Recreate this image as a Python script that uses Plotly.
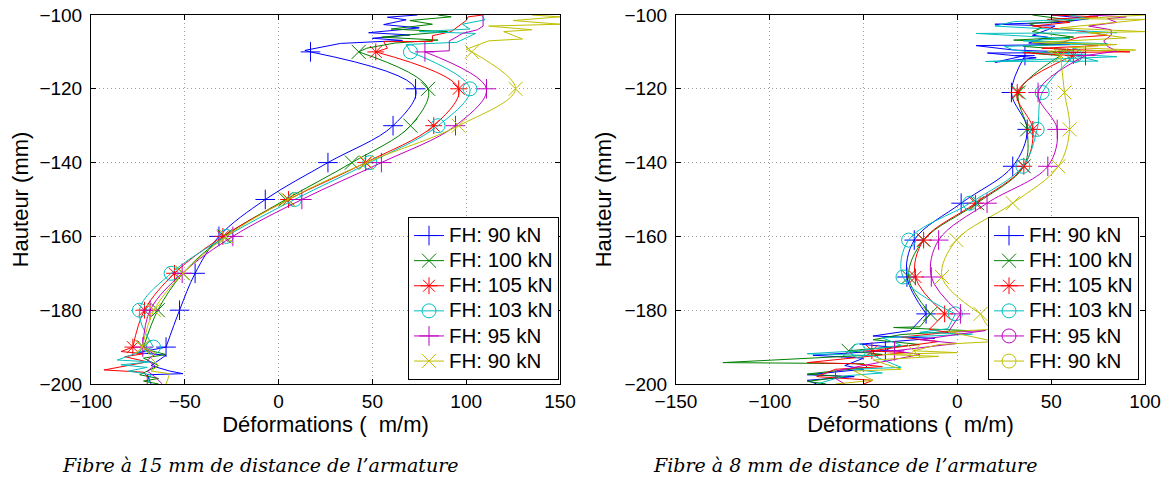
import plotly.graph_objects as go

# ---------------- data ----------------
names = ["FH: 90 kN", "FH: 100 kN", "FH: 105 kN", "FH: 103 kN", "FH: 95 kN", "FH: 90 kN"]
colors = ["#0000ff", "#008000", "#ff0000", "#00bfbf", "#bf00bf", "#bfbf00"]
symbols = ["cross-thin-open", "x-thin-open", "asterisk-open", "circle-open", "cross-thin-open", "x-thin-open"]
right_legend_symbols = ["cross-thin-open", "x-thin-open", "asterisk-open", "circle-open", "circle-open", "circle-open"]

x_ticks_left = [-100, -50, 0, 50, 100, 150]
x_ticks_right = [-150, -100, -50, 0, 50, 100]
y_ticks = [-200, -180, -160, -140, -120, -100]

# Left panel (fibre at 15 mm): marker heights and values
left_marker_y = [-110, -120, -130, -140, -150, -160, -170, -180, -190]
left_blue_x = [17, 73, 61, 26.3, -7.1, -31.8, -44.5, -52.8, -60]
left_green_x = [42.7, 79.7, 70.3, 39.1, 3.8, -28.8, -51, -64.4, -72]
left_red_x = [51.8, 96, 82.7, 46.4, 5.3, -29.7, -55.5, -71.5, -77.7]
left_cyan_x = [70.3, 102, 85, 48.6, 8.5, -27.9, -57.3, -74.2, -66.7]
left_magenta_x = [78, 110.8, 94.3, 54.8, 12.4, -24.4, -51.4, -68.5, -72.4]
left_yellow_x = [103, 126.3, 96, 46.8, 5, -27.9, -51, -66.4, -72.7]

# Left panel noisy ends (top: above first marker, bottom: below last marker)
left_blue_top_x = [14, 33, 66, 50, 70, 48, 75, 56, 68, 58, 74]
left_blue_top_y = [-109.6, -107.7, -106.9, -106.3, -105.4, -104.8, -103.5, -102.6, -101.3, -100.6, -100]
left_green_top_x = [47, 62, 85, 55, 90, 60, 82, 70, 92, 85]
left_green_top_y = [-109, -107.6, -106.8, -106, -104.5, -103.8, -102.5, -101.5, -100.5, -100]
left_red_top_x = [58, 56, 82, 82, 92, 96, 100, 101, 109]
left_red_top_y = [-109, -107.2, -107.2, -105.6, -104.5, -103, -101.5, -100.5, -100]
left_cyan_top_x = [68, 95, 100, 105, 75, 102, 98, 110, 108]
left_cyan_top_y = [-108, -107.4, -106.2, -105, -104.5, -103.8, -102.5, -101.3, -100]
left_magenta_top_x = [91, 91, 93, 98, 106, 109, 109]
left_magenta_top_y = [-109.7, -107, -106.5, -105, -104, -103, -100]
left_yellow_top_x = [100, 112, 130, 120, 135, 112, 150, 125, 150, 135]
left_yellow_top_y = [-109.3, -107, -106.5, -104.5, -104, -103, -102.5, -101.5, -100.5, -100]

left_blue_bot_x = [-75, -60, -68, -58, -51, -70, -68]
left_blue_bot_y = [-191.5, -192.2, -195, -196.5, -197.2, -197.5, -200]
left_green_bot_x = [-68, -60, -72, -64, -74, -64, -72, -64]
left_green_bot_y = [-191, -192, -193, -195, -197.5, -198.5, -199.2, -200]
left_red_bot_x = [-84, -72, -82, -70, -93, -72, -70, -70]
left_red_bot_y = [-191.2, -191.8, -192.6, -194, -196.2, -196.8, -198, -200]
left_cyan_bot_x = [-74, -86, -68, -84, -70, -80, -68, -70]
left_cyan_bot_y = [-191.3, -193.5, -194, -194.8, -195.5, -196.5, -197.5, -200]
left_magenta_bot_x = [-66, -70, -66, -70, -66, -62]
left_magenta_bot_y = [-192, -193.5, -195, -196.5, -198, -200]
left_yellow_bot_x = [-66, -68, -64, -68, -58, -60]
left_yellow_bot_y = [-191.5, -193, -195, -196.5, -197.2, -200]

# Right panel (fibre at 8 mm)
right_marker_y = [-111, -121, -131, -141, -151, -161, -171, -181, -191]
right_blue_x = [36, 28.8, 37.2, 29.5, 2, -23, -26.9, -16.7, -38.4]
right_green_x = [55, 32.7, 37.2, 35.4, 10.5, -18, -26, -14.4, -58]
right_red_x = [61.8, 31.9, 40.2, 35.4, 9.6, -18, -22.4, -6.8, -45.6]
right_cyan_x = [62.6, 45.2, 42.5, 34.9, 6.6, -26, -29, -1.1, -52.7]
right_magenta_x = [68.3, 43, 53.2, 48.2, 15.8, -10, -13.9, 1.6, -33.5]
right_yellow_x = [55, 57.1, 59.8, 53.8, 29.5, -0.5, -8.2, 12.3, -23.3]

right_blue_top_x = [20, 42, 16, 68, 30, 10, 60, 38, 48, 40, 48, 52, 20, 55, 70, 50]
right_blue_top_y = [-112.8, -111.6, -110.3, -110.2, -109.5, -108.3, -108, -107.6, -106, -105.5, -104, -103, -102.5, -102, -101, -100]
right_green_top_x = [40, 62, 35, 60, 30, 62, 40, 45, 38, 62, 40]
right_green_top_y = [-110.4, -109.5, -108.5, -107.5, -106.8, -106, -104.5, -103.5, -102.3, -101.5, -100]
right_red_top_x = [35, 92, 45, 75, 55, 65, 80, 68, 40, 60, 48, 75, 50]
right_red_top_y = [-110.2, -110, -109, -108.3, -107.5, -106, -105.5, -104.5, -103, -102, -101.2, -100.5, -100]
right_cyan_top_x = [75, 15, 85, 40, 30, 25, 80, 35, 60, 10, 85, 20, 30, 70, 60]
right_cyan_top_y = [-112.5, -112.6, -111.3, -110, -109.5, -108.5, -107.8, -107, -106.4, -105, -104.8, -103, -101.8, -101, -100]
right_magenta_top_x = [75, 85, 80, 78, 82, 82, 70, 85, 80, 90, 70]
right_magenta_top_y = [-110.5, -109.8, -108.5, -107, -105.5, -104, -103, -102, -101, -100.5, -100]
right_yellow_top_x = [48, 95, 60, 85, 40, 90, 70, 100, 55, 100, 65, 100]
right_yellow_top_y = [-109.8, -109.5, -108.8, -108, -107.5, -106.2, -104.8, -104.5, -103.5, -101.2, -101, -100]

# between the -181 and -191 markers
right_blue_mid_x = [-25, -45, -12, -52, -35]
right_blue_mid_y = [-185.5, -187, -187.6, -189.2, -190]
right_green_mid_x = [-20, -34, 5, -30, -45, -20]
right_green_mid_y = [-184.5, -184.7, -185.5, -186.6, -188, -189.3]
right_red_mid_x = [-15, -5, -30, -10]
right_red_mid_y = [-185.2, -186, -187.3, -188.5]
right_cyan_mid_x = [-5, -20, 8, -40, -30]
right_cyan_mid_y = [-185, -186, -186.5, -187.5, -189.5]
right_magenta_mid_x = [-5, 15, -20, 0]
right_magenta_mid_y = [-186, -185.5, -188, -189]
right_yellow_mid_x = [15, 18, -5, 20, -10]
right_yellow_mid_y = [-183.5, -185.2, -185.8, -188.5, -189.3]

# below the -191 marker
right_blue_bot_x = [-77, -50, -60, -50, -80, -55, -80, -75]
right_blue_bot_y = [-192.2, -193, -195, -196, -197.5, -198, -199, -200]
right_green_bot_x = [-40, -125, -50, -48, -80, -60, -80, -70]
right_green_bot_y = [-192, -194.2, -194.5, -195.5, -197.3, -198, -199.3, -200]
right_red_bot_x = [-28, -80, -55, -40, -65, -75, -45, -50]
right_red_bot_y = [-191.5, -194.2, -194.5, -195.3, -196, -198, -199, -200]
right_cyan_bot_x = [-80, -45, -30, -55, -40, -60, -75]
right_cyan_bot_y = [-191.8, -192.3, -195.5, -196, -197, -197.8, -200]
right_magenta_bot_x = [-20, -35, -65, -65, -60]
right_magenta_bot_y = [-192, -193.5, -196.5, -198.5, -200]
right_yellow_bot_x = [0, -40, -10, -45, -30, -55, -45, -65]
right_yellow_bot_y = [-191.5, -192, -192.5, -193.5, -196, -196.5, -199, -200]

left_series = [
    (left_blue_x, left_blue_top_x, left_blue_top_y, left_blue_bot_x, left_blue_bot_y),
    (left_green_x, left_green_top_x, left_green_top_y, left_green_bot_x, left_green_bot_y),
    (left_red_x, left_red_top_x, left_red_top_y, left_red_bot_x, left_red_bot_y),
    (left_cyan_x, left_cyan_top_x, left_cyan_top_y, left_cyan_bot_x, left_cyan_bot_y),
    (left_magenta_x, left_magenta_top_x, left_magenta_top_y, left_magenta_bot_x, left_magenta_bot_y),
    (left_yellow_x, left_yellow_top_x, left_yellow_top_y, left_yellow_bot_x, left_yellow_bot_y),
]
right_series = [
    (right_blue_x, right_blue_top_x, right_blue_top_y, right_blue_mid_x, right_blue_mid_y, right_blue_bot_x, right_blue_bot_y),
    (right_green_x, right_green_top_x, right_green_top_y, right_green_mid_x, right_green_mid_y, right_green_bot_x, right_green_bot_y),
    (right_red_x, right_red_top_x, right_red_top_y, right_red_mid_x, right_red_mid_y, right_red_bot_x, right_red_bot_y),
    (right_cyan_x, right_cyan_top_x, right_cyan_top_y, right_cyan_mid_x, right_cyan_mid_y, right_cyan_bot_x, right_cyan_bot_y),
    (right_magenta_x, right_magenta_top_x, right_magenta_top_y, right_magenta_mid_x, right_magenta_mid_y, right_magenta_bot_x, right_magenta_bot_y),
    (right_yellow_x, right_yellow_top_x, right_yellow_top_y, right_yellow_mid_x, right_yellow_mid_y, right_yellow_bot_x, right_yellow_bot_y),
]

# ---------------- figure ----------------
# page body has an 8px margin: the figure starts at (8, 8) in the window
OFF = 8
W, H = 1169 - OFF, 497 - OFF


def fx(px):
    return (px - OFF) / W


def fy(py):
    return 1 - (py - OFF) / H


fig = go.Figure()

MSIZE = 14
LW = 1

# Left panel
for i, (mx, tx, ty, bx, by) in enumerate(left_series):
    c = colors[i]
    nx = list(reversed(tx)) + [mx[0], None, mx[-1]] + bx
    ny = list(reversed(ty)) + [left_marker_y[0], None, left_marker_y[-1]] + by
    fig.add_trace(go.Scatter(x=nx, y=ny, mode="lines", line=dict(color=c, width=LW),
                             xaxis="x", yaxis="y", showlegend=False, hoverinfo="skip"))
    fig.add_trace(go.Scatter(x=mx, y=left_marker_y, mode="lines", line=dict(color=c, width=LW, shape="spline", smoothing=1.0),
                             xaxis="x", yaxis="y", showlegend=False, hoverinfo="skip"))
    fig.add_trace(go.Scatter(x=mx, y=left_marker_y, mode="markers",
                             marker=dict(symbol=symbols[i], size=MSIZE, color=c, line=dict(color=c, width=LW)),
                             xaxis="x", yaxis="y", showlegend=False))

# Right panel
for i, (mx, tx, ty, mdx, mdy, bx, by) in enumerate(right_series):
    c = colors[i]
    nx = list(reversed(tx)) + [mx[0], None, mx[-2]] + mdx + [mx[-1]] + bx
    ny = list(reversed(ty)) + [right_marker_y[0], None, right_marker_y[-2]] + mdy + [right_marker_y[-1]] + by
    fig.add_trace(go.Scatter(x=nx, y=ny, mode="lines", line=dict(color=c, width=LW),
                             xaxis="x2", yaxis="y2", showlegend=False, hoverinfo="skip"))
    fig.add_trace(go.Scatter(x=mx[:-1], y=right_marker_y[:-1], mode="lines",
                             line=dict(color=c, width=LW, shape="spline", smoothing=1.0),
                             xaxis="x2", yaxis="y2", showlegend=False, hoverinfo="skip"))
    fig.add_trace(go.Scatter(x=mx, y=right_marker_y, mode="markers",
                             marker=dict(symbol=symbols[i], size=MSIZE, color=c, line=dict(color=c, width=LW)),
                             xaxis="x2", yaxis="y2", showlegend=False))


def big(t):
    return '<span style="font-size:20.5px">' + t + '</span>'


# Legend entries
for i in range(6):
    c = colors[i]
    fig.add_trace(go.Scatter(x=[None], y=[None], mode="lines+markers", name=big(names[i]),
                             line=dict(color=c, width=LW),
                             marker=dict(symbol=symbols[i], size=MSIZE, color=c, line=dict(color=c, width=LW)),
                             xaxis="x", yaxis="y", legend="legend"))
for i in range(6):
    c = colors[i]
    fig.add_trace(go.Scatter(x=[None], y=[None], mode="lines+markers", name=big(names[i]),
                             line=dict(color=c, width=LW),
                             marker=dict(symbol=right_legend_symbols[i], size=MSIZE, color=c, line=dict(color=c, width=LW)),
                             xaxis="x2", yaxis="y2", legend="legend2"))

FONT = "Liberation Sans, Arial, Helvetica, sans-serif"
common_axis = dict(showgrid=True, gridcolor="#a0a0a0", griddash="1px,3px", gridwidth=1,
                   zeroline=False, showline=True, linecolor="black", linewidth=1,
                   mirror="allticks", ticks="inside", ticklen=5, tickcolor="black",
                   automargin=False, ticklabeloverflow="allow",
                   tickfont=dict(family=FONT, size=19, color="black"))

ydom = [fy(384), fy(15)]
xtitle = "Déformations (\u00a0\u00a0m/m)"

fig.update_layout(
    width=W, height=H,
    margin=dict(l=0, r=0, t=0, b=0, autoexpand=False),
    paper_bgcolor="white", plot_bgcolor="white",
    font=dict(family=FONT, color="black"),
    xaxis=dict(domain=[fx(91), fx(560)], range=[-100, 150], tickvals=x_ticks_left, anchor="y",
               title=dict(text=xtitle, font=dict(size=22), standoff=0), ticklabelstandoff=0, **common_axis),
    yaxis=dict(domain=ydom, range=[-200, -100], tickvals=y_ticks, anchor="x",
               title=dict(text="Hauteur (mm)", font=dict(size=22), standoff=6), ticklabelstandoff=4, **common_axis),
    xaxis2=dict(domain=[fx(676), fx(1145)], range=[-150, 100], tickvals=x_ticks_right, anchor="y2",
                title=dict(text=xtitle, font=dict(size=22), standoff=0), ticklabelstandoff=0, **common_axis),
    yaxis2=dict(domain=ydom, range=[-200, -100], tickvals=y_ticks, anchor="x2",
                title=dict(text="Hauteur (mm)", font=dict(size=22), standoff=6), ticklabelstandoff=4, **common_axis),
    legend=dict(x=fx(559), y=fy(380), xanchor="right", yanchor="bottom", bgcolor="white",
                bordercolor="black", borderwidth=1, font=dict(family=FONT, size=17, color="black"),
                tracegroupgap=0, itemwidth=30),
    legend2=dict(x=fx(1139), y=fy(380), xanchor="right", yanchor="bottom", bgcolor="white",
                 bordercolor="black", borderwidth=1, font=dict(family=FONT, size=17, color="black"),
                 tracegroupgap=0, itemwidth=30),
    annotations=[
        dict(text="<i>Fibre à 15 mm de distance de l’armature</i>", x=fx(260), y=fy(465),
             xref="paper", yref="paper", showarrow=False, xanchor="center", yanchor="middle",
             font=dict(family="DejaVu Serif", size=19, color="black")),
        dict(text="<i>Fibre à 8 mm de distance de l’armature</i>", x=fx(845), y=fy(465),
             xref="paper", yref="paper", showarrow=False, xanchor="center", yanchor="middle",
             font=dict(family="DejaVu Serif", size=19, color="black")),
    ],
)

fig.write_html("out.html")
